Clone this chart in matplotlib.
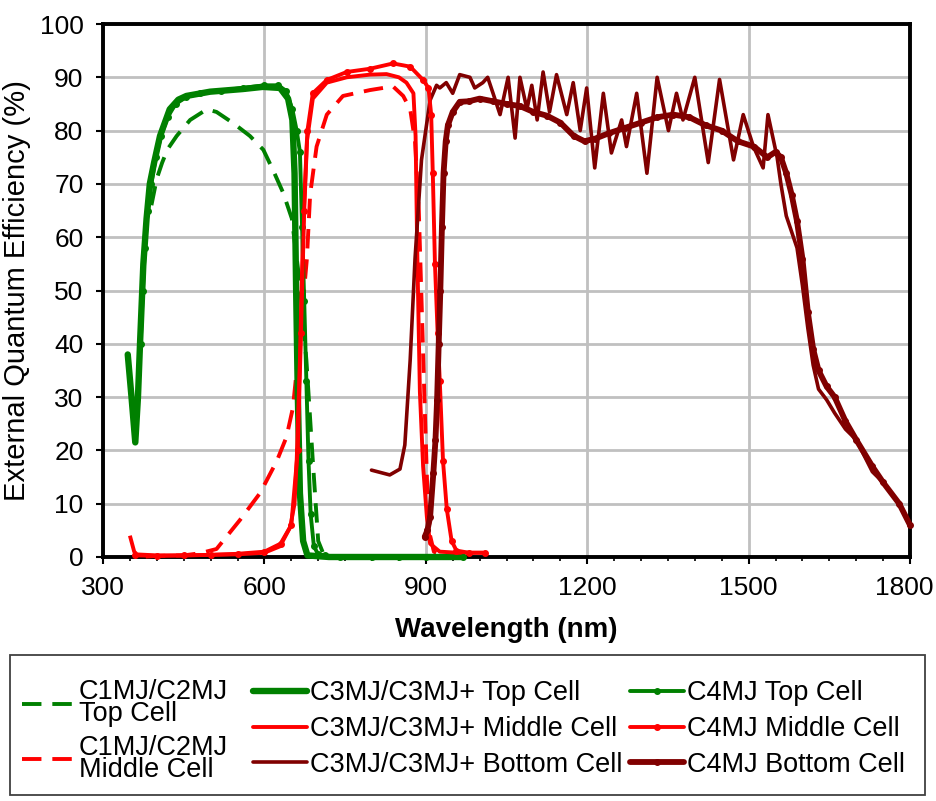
import matplotlib
matplotlib.use('Agg')
import matplotlib.pyplot as plt
from matplotlib.patches import Rectangle
from matplotlib.transforms import ScaledTranslation

plt.rcParams['font.family'] = ['Liberation Sans', 'DejaVu Sans']

# ---------------- data (wavelength nm, EQE %) ----------------
c1_top_nm = [390, 400, 410, 420, 437, 462, 493, 511, 542, 573, 598, 616, 635, 651, 665, 678, 690, 700, 710]
c1_top_eqe = [66, 71, 74, 76.5, 79, 82, 84, 83.5, 81.4, 79, 76.4, 72.6, 68.3, 63.5, 52, 37, 18, 3, 0.5]

c1_mid_nm = [350, 358, 368, 400, 450, 480, 511, 555, 592, 623, 641, 653, 665, 679, 685, 697, 716, 746, 796,
             839, 858, 871, 880, 887, 893, 898, 903, 908, 915, 930]
c1_mid_eqe = [4, 1, 0, 0.2, 0.3, 0.7, 1.5, 7, 12, 18, 22.5, 28, 40, 56, 68, 77, 83, 86.5, 87.6,
              88.3, 86.5, 84, 78, 65, 45, 28, 12, 4, 1, 0.3]

c3_top_nm = [346, 353, 360, 365, 369, 375, 381, 387, 395, 406, 424, 440, 455, 499, 560, 597, 629, 644,
             652, 656, 659, 662, 666, 672, 680, 720, 800, 900, 970]
c3_top_eqe = [38, 30, 21.5, 30, 40.5, 55, 63.5, 70, 74, 79, 84, 85.8, 86.5, 87.3, 87.8, 88.2, 88, 86,
              82, 72, 50, 31, 12, 3, 0.3, 0, 0, 0, 0]

c3_mid_nm = [360, 400, 450, 500, 550, 600, 629, 648, 656, 660, 666, 672, 679, 690, 716, 753, 796, 827,
             850, 864, 877, 881, 884, 889, 895, 902, 908, 926, 960, 1006]
c3_mid_eqe = [0.5, 0.3, 0.3, 0.4, 0.5, 0.8, 2, 5.6, 10, 18, 37, 62, 78, 86, 89, 90, 90.5, 90.6,
              90, 89, 87, 79, 58, 31, 17, 7.5, 2.5, 1, 0.8, 0.8]

c3_bot_nm = [799, 833, 852, 861, 871, 880, 892, 908, 920, 926, 938, 950, 963, 982, 991, 1006, 1015, 1025,
             1038, 1053, 1066, 1075, 1088, 1097, 1107, 1118, 1130, 1143, 1162, 1174, 1187, 1199, 1214,
             1230, 1245, 1264, 1273, 1292, 1311, 1330, 1351, 1366, 1378, 1400, 1425, 1446, 1472, 1490,
             1509, 1527, 1536, 1553, 1560, 1570, 1580, 1590, 1600, 1610, 1620, 1630, 1645, 1660, 1680,
             1700, 1730, 1750, 1780, 1800]
c3_bot_eqe = [16.3, 15.4, 16.5, 21, 37, 56, 74.5, 85.7, 88.5, 88, 89, 87, 90.5, 90, 88, 89, 90, 87,
              83, 90, 78.6, 90, 84, 88.5, 82, 91, 83.5, 90.5, 83, 89, 80, 88, 73,
              87, 75.8, 82, 77, 87, 72, 90, 80, 87, 82, 90, 74, 89.6, 74.5, 83,
              77, 73, 83, 75, 70, 64, 61, 58, 51, 43, 36, 31.5, 29.5, 27, 24,
              22, 16, 14, 10, 6]

c4_top_nm = [370, 374, 378, 383, 390, 398, 408, 420, 435, 455, 480, 520, 560, 600, 625, 640, 652, 660,
             666, 670, 674, 678, 682, 686, 692, 700, 712, 740, 800, 850, 900, 970]
c4_top_eqe = [40, 50, 58, 65, 70, 75, 79, 82.5, 85, 86.3, 87, 87.5, 88, 88.5, 88.5, 87.5, 84, 80,
              76, 62, 48, 33, 18, 8, 2, 0.5, 0.3, 0, 0, 0, 0, 0]

c4_mid_nm = [360, 400, 450, 500, 550, 600, 630, 650, 662, 668, 674, 680, 690, 716, 753, 796, 839, 871,
             895, 905, 910, 913, 917, 922, 926, 932, 939, 948, 957, 980, 1010]
c4_mid_eqe = [0.3, 0.2, 0.3, 0.4, 0.6, 1, 2.5, 6, 20, 42, 65, 80, 87, 89.5, 91, 91.6, 92.6, 92,
              89.5, 88, 83, 72, 55, 42, 33, 18, 9, 3, 1.2, 0.8, 0.8]

c4_bot_nm = [898, 903, 908, 914, 918, 921, 924, 927, 930, 933, 937, 941, 950, 963, 980, 1000, 1025, 1050,
             1075, 1100, 1125, 1150, 1175, 1195, 1215, 1240, 1270, 1300, 1330, 1360, 1390, 1420, 1450,
             1480, 1510, 1535, 1550, 1560, 1570, 1580, 1590, 1600, 1610, 1620, 1630, 1645, 1660, 1680,
             1700, 1730, 1750, 1780, 1800]
c4_bot_eqe = [3.8, 5, 7.5, 15.7, 22, 29.5, 40, 50, 62, 72, 78, 81, 83.5, 85.4, 85.5, 86, 85.5, 85,
              84.6, 83.5, 82.8, 81.5, 79, 78, 78.5, 79.5, 80.5, 81.5, 82.5, 83, 82.5, 81, 80,
              78, 77, 75, 76, 75, 72, 68, 63, 56, 46, 39, 35, 32, 30, 25.5,
              22, 17, 14, 10, 6]

labels = ["C1MJ/C2MJ\nTop Cell", "C1MJ/C2MJ\nMiddle Cell",
          "C3MJ/C3MJ+ Top Cell", "C3MJ/C3MJ+ Middle Cell", "C3MJ/C3MJ+ Bottom Cell",
          "C4MJ Top Cell", "C4MJ Middle Cell", "C4MJ Bottom Cell"]

x_ticks = [300, 600, 900, 1200, 1500, 1800]
y_ticks = [0, 10, 20, 30, 40, 50, 60, 70, 80, 90, 100]

GREEN = '#008000'
RED = '#FF0000'
DRED = '#800000'

# ---------------- figure ----------------
W, H = 936, 801
fig = plt.figure(figsize=(W / 100, H / 100), dpi=100)
ax = fig.add_axes([103 / W, 1 - 557 / H, (910 - 103) / W, (557 - 24) / H])

common = dict(clip_on=False, solid_joinstyle='round', solid_capstyle='round')
h_c1t, = ax.plot(c1_top_nm, c1_top_eqe, color=GREEN, lw=2.8, dashes=(5, 2.8), label=labels[0], zorder=3, **common)
h_c1m, = ax.plot(c1_mid_nm, c1_mid_eqe, color=RED, lw=2.8, dashes=(5, 2.8), label=labels[1], zorder=3, **common)
h_c3t, = ax.plot(c3_top_nm, c3_top_eqe, color=GREEN, lw=4.6, label=labels[2], zorder=4, **common)
h_c3m, = ax.plot(c3_mid_nm, c3_mid_eqe, color=RED, lw=2.8, label=labels[3], zorder=4, **common)
h_c3b, = ax.plot(c3_bot_nm, c3_bot_eqe, color=DRED, lw=2.6, label=labels[4], zorder=4, **common)
h_c4t, = ax.plot(c4_top_nm, c4_top_eqe, color=GREEN, lw=2.8, marker='o', ms=4, label=labels[5], zorder=5, **common)
h_c4m, = ax.plot(c4_mid_nm, c4_mid_eqe, color=RED, lw=2.8, marker='o', ms=4, label=labels[6], zorder=5, **common)
h_c4b, = ax.plot(c4_bot_nm, c4_bot_eqe, color=DRED, lw=4.2, marker='o', ms=4, label=labels[7], zorder=5, **common)

ax.set_xlim(300, 1800)
ax.set_ylim(0, 100)
ax.set_xticks(x_ticks)
ax.set_xticks(list(range(300, 1801, 50)), minor=True)
ax.set_yticks(y_ticks)
ax.grid(True, which='major', color='#C0C0C0', lw=2.0)
ax.set_axisbelow(True)
for s in ax.spines.values():
    s.set_linewidth(2.8)
    s.set_color('black')
    s.set_zorder(2.5)
ax.tick_params(which='major', direction='out', length=5, width=1.5, labelsize=19, colors='black')
ax.tick_params(axis='x', which='major', pad=9)
ax.tick_params(axis='y', which='major', pad=9)
ax.tick_params(which='minor', direction='out', length=3, width=1.2)
ax.tick_params(axis='y', which='minor', left=False)
ax.set_xlabel('Wavelength (nm)', fontsize=20, fontweight='bold', labelpad=12)
ax.set_ylabel('External Quantum Efficiency (%)', fontsize=21, labelpad=6)

# keep the last x tick label inside the figure
last = ax.get_xticklabels()[-1]
last.set_transform(last.get_transform() + ScaledTranslation(-6 / 100, 0, fig.dpi_scale_trans))

# ---------------- legend box ----------------
fig.patches.append(Rectangle((10 / W, 1 - 795 / H), 915 / W, 140 / H, transform=fig.transFigure,
                             fill=False, edgecolor='#404040', lw=1.3))

legkw = dict(frameon=False, fontsize=19.5, borderpad=0, borderaxespad=0, handlelength=2.0,
             handletextpad=0.1, loc='center left')
l1 = fig.legend([h_c1t, h_c1m], labels[0:2], bbox_to_anchor=(22 / W, 1 - 731 / H),
                labelspacing=0.3, **legkw)
for t in l1.get_texts():
    t.set_linespacing(0.78)
l2 = fig.legend([h_c3t, h_c3m, h_c3b], labels[2:5], bbox_to_anchor=(253 / W, 1 - 729 / H),
                labelspacing=0.36, **legkw)
l3 = fig.legend([h_c4t, h_c4m, h_c4b], labels[5:8], bbox_to_anchor=(630 / W, 1 - 729 / H),
                labelspacing=0.36, **legkw)

fig.savefig('out.png', dpi=100)
